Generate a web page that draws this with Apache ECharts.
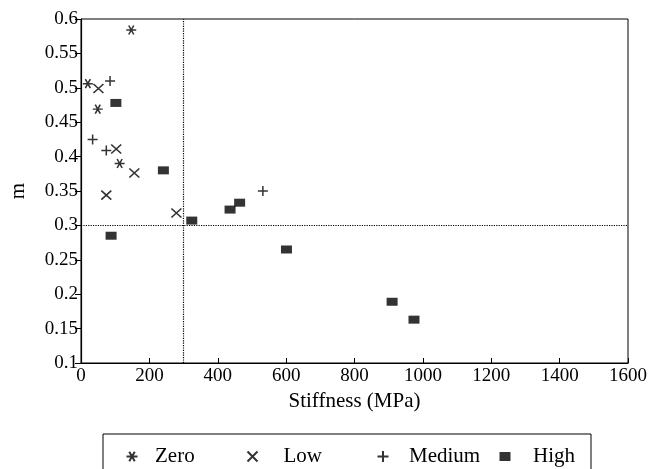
<!DOCTYPE html>
<html>
<head>
<meta charset="utf-8">
<script src="https://cdn.jsdelivr.net/npm/echarts@6/dist/echarts.min.js"></script>
<style>html,body{margin:0;padding:0;background:#fff;}#c{width:649px;height:469px;}</style>
</head>
<body>
<div id="c"></div>
<script>
var xTicks = [0, 200, 400, 600, 800, 1000, 1200, 1400, 1600];
var yTicks = [0.1, 0.15, 0.2, 0.25, 0.3, 0.35, 0.4, 0.45, 0.5, 0.55, 0.6];
var seriesNames = ['Zero', 'Low', 'Medium', 'High'];
var zeroX = [147, 20, 49, 113];
var zeroY = [0.584, 0.506, 0.469, 0.390];
var lowX = [51, 103, 156, 74, 279];
var lowY = [0.499, 0.411, 0.376, 0.344, 0.318];
var medX = [85, 34, 74, 532];
var medY = [0.510, 0.425, 0.409, 0.350];
var highX = [102, 241, 324, 436, 464, 88, 601, 910, 974];
var highY = [0.478, 0.380, 0.307, 0.323, 0.333, 0.285, 0.265, 0.189, 0.163];
var refX = 300;
var refY = 0.3;

function pairs(xs, ys) { return xs.map(function (x, i) { return [x, ys[i]]; }); }

var FONT = 'Liberation Serif';
var strokeStyle = { color: 'transparent', borderColor: '#000', borderWidth: 1.5 };
var symAst = 'path://M0,5L10,5M2.5,0.67L7.5,9.33M7.5,0.67L2.5,9.33';
var symX = 'path://M0,0L10,10M10,0L0,10';
var symPlus = 'path://M5,0L5,10M0,5L10,5';

function legendAt(name, left, pad, w, h) {
  return {
    data: [name], left: left, top: 441, itemWidth: w, itemHeight: h,
    textStyle: { fontFamily: FONT, fontSize: 21, color: '#000', padding: [0, 0, 0, pad] },
    selectedMode: false
  };
}

var chart = echarts.init(document.getElementById('c'));
chart.setOption({
  animation: false,
  backgroundColor: '#fff',
  grid: { left: 81, right: 21, top: 19, bottom: 106, show: true, borderColor: '#000', borderWidth: 1,
    containLabel: false, outerBoundsMode: 'none' },
  xAxis: {
    type: 'value', min: xTicks[0], max: xTicks[xTicks.length - 1], interval: 200,
    name: 'Stiffness (MPa)', nameLocation: 'middle', nameGap: 27,
    nameTextStyle: { fontFamily: FONT, fontSize: 21, color: '#000' },
    axisLine: { lineStyle: { color: '#000', width: 1.2 } },
    axisTick: { inside: true, length: 5, lineStyle: { color: '#000' } },
    axisLabel: { fontFamily: FONT, fontSize: 19, color: '#000', margin: 4,
      formatter: function (v) { return String(v); } },
    splitLine: { show: false }
  },
  yAxis: {
    type: 'value', min: yTicks[0], max: yTicks[yTicks.length - 1], interval: 0.05,
    name: 'm', nameLocation: 'middle', nameGap: 52,
    nameTextStyle: { fontFamily: FONT, fontSize: 21, color: '#000' },
    axisLine: { show: true, lineStyle: { color: '#000', width: 1.2 } },
    axisTick: { show: true, inside: false, length: 6, lineStyle: { color: '#000' } },
    axisLabel: { fontFamily: FONT, fontSize: 19, color: '#000', margin: 3,
      formatter: function (v) { return String(Math.round(v * 100) / 100); } },
    splitLine: { show: false }
  },
  legend: [
    legendAt('Zero', 120.5, 12.5, 11, 10),
    legendAt('Low', 241.5, 20.5, 11, 10),
    legendAt('Medium', 371.5, 15.5, 11, 11),
    legendAt('High', 494.5, 17.5, 11, 9)
  ],
  graphic: [{
    type: 'rect', shape: { x: 103, y: 434, width: 488, height: 60 },
    style: { fill: 'none', stroke: '#000', lineWidth: 1 }, silent: true
  }],
  series: [
    { name: 'Zero', type: 'scatter', data: pairs(zeroX, zeroY), symbol: symAst, symbolSize: [10, 9], itemStyle: strokeStyle,
      markLine: { silent: true, symbol: 'none', label: { show: false },
        lineStyle: { color: '#000', type: 'dotted', width: 1.2 },
        data: [{ xAxis: refX }, { yAxis: refY }] } },
    { name: 'Low', type: 'scatter', data: pairs(lowX, lowY), symbol: symX, symbolSize: [10, 9], itemStyle: strokeStyle },
    { name: 'Medium', type: 'scatter', data: pairs(medX, medY), symbol: symPlus, symbolSize: [10, 10], itemStyle: strokeStyle },
    { name: 'High', type: 'scatter', data: pairs(highX, highY), symbol: 'rect', symbolSize: [11, 8], itemStyle: { color: '#000' } }
  ]
});
</script>
</body>
</html>
